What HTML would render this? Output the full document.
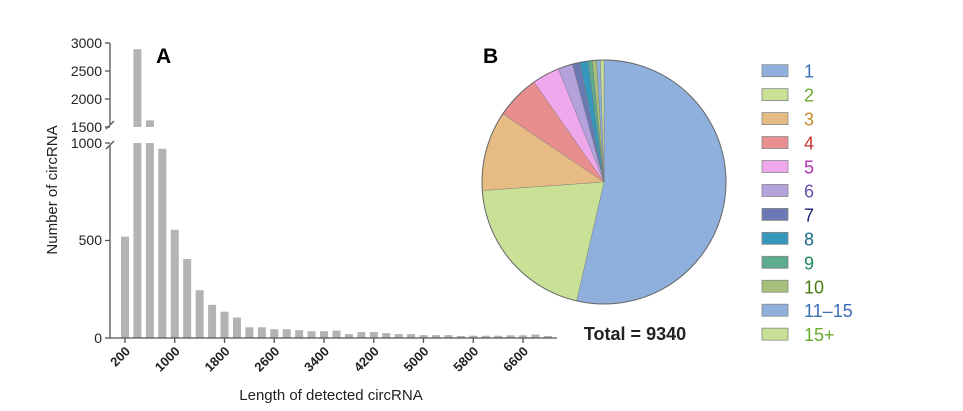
<!DOCTYPE html>
<html><head><meta charset="utf-8"><style>
html,body{margin:0;padding:0;background:#fff;}
svg{display:block;font-family:"Liberation Sans",Arial,sans-serif;}
</style></head><body>
<svg width="963" height="411" viewBox="0 0 963 411" xmlns="http://www.w3.org/2000/svg">
<g fill="#b3b3b3">
<rect x="121" y="236.6" width="8" height="101.4"/>
<rect x="133.44" y="143" width="8" height="195"/>
<rect x="133.44" y="49.2" width="8" height="77.8"/>
<rect x="145.88" y="143" width="8" height="195"/>
<rect x="145.88" y="120.3" width="8" height="6.7"/>
<rect x="158.32" y="148.8" width="8" height="189.2"/>
<rect x="170.76" y="229.8" width="8" height="108.2"/>
<rect x="183.2" y="259" width="8" height="79"/>
<rect x="195.64" y="290.2" width="8" height="47.8"/>
<rect x="208.08" y="304.8" width="8" height="33.2"/>
<rect x="220.52" y="311.7" width="8" height="26.3"/>
<rect x="232.96" y="317.5" width="8" height="20.5"/>
<rect x="245.4" y="327.3" width="8" height="10.7"/>
<rect x="257.84" y="327.3" width="8" height="10.7"/>
<rect x="270.28" y="329.2" width="8" height="8.8"/>
<rect x="282.72" y="329.2" width="8" height="8.8"/>
<rect x="295.16" y="330.2" width="8" height="7.8"/>
<rect x="307.6" y="331.2" width="8" height="6.8"/>
<rect x="320.04" y="331.2" width="8" height="6.8"/>
<rect x="332.48" y="330.6" width="8" height="7.4"/>
<rect x="344.92" y="334.1" width="8" height="3.9"/>
<rect x="357.36" y="332.1" width="8" height="5.9"/>
<rect x="369.8" y="332.1" width="8" height="5.9"/>
<rect x="382.24" y="333.1" width="8" height="4.9"/>
<rect x="394.68" y="334.1" width="8" height="3.9"/>
<rect x="407.12" y="334.1" width="8" height="3.9"/>
<rect x="419.56" y="335.1" width="8" height="2.9"/>
<rect x="432" y="335.1" width="8" height="2.9"/>
<rect x="444.44" y="335.1" width="8" height="2.9"/>
<rect x="456.88" y="336" width="8" height="2"/>
<rect x="469.32" y="335.7" width="8" height="2.3"/>
<rect x="481.76" y="335.7" width="8" height="2.3"/>
<rect x="494.2" y="335.7" width="8" height="2.3"/>
<rect x="506.64" y="335.3" width="8" height="2.7"/>
<rect x="519.08" y="335.3" width="8" height="2.7"/>
<rect x="531.52" y="334.5" width="8" height="3.5"/>
<rect x="543.96" y="336" width="8" height="2"/>
</g>
<g stroke="#555" stroke-width="1.3" fill="none">
 <line x1="110" y1="338" x2="557" y2="338"/>
 <line x1="110" y1="43" x2="110" y2="124"/>
 <line x1="110" y1="146" x2="110" y2="338"/>
 <line x1="105" y1="43" x2="110" y2="43"/>
 <line x1="105" y1="71" x2="110" y2="71"/>
 <line x1="105" y1="99" x2="110" y2="99"/>
 <line x1="105" y1="127" x2="110" y2="127"/>
 <line x1="105" y1="143" x2="110" y2="143"/>
 <line x1="105" y1="240.5" x2="110" y2="240.5"/>
 <line x1="105" y1="338" x2="110" y2="338"/>
 <line x1="106" y1="129" x2="114" y2="121"/>
 <line x1="106" y1="149" x2="114" y2="141"/>
 <line x1="125" y1="338" x2="125" y2="343"/>
 <line x1="174.75" y1="338" x2="174.75" y2="343"/>
 <line x1="224.5" y1="338" x2="224.5" y2="343"/>
 <line x1="274.25" y1="338" x2="274.25" y2="343"/>
 <line x1="324" y1="338" x2="324" y2="343"/>
 <line x1="373.75" y1="338" x2="373.75" y2="343"/>
 <line x1="423.5" y1="338" x2="423.5" y2="343"/>
 <line x1="473.25" y1="338" x2="473.25" y2="343"/>
 <line x1="523" y1="338" x2="523" y2="343"/>
</g>
<g font-size="14" fill="#222" text-anchor="end">
 <text x="102" y="48">3000</text>
 <text x="102" y="76">2500</text>
 <text x="102" y="104">2000</text>
 <text x="102" y="132">1500</text>
 <text x="102" y="148">1000</text>
 <text x="102" y="245">500</text>
 <text x="102" y="343">0</text>
</g>
<g font-size="13" font-weight="bold" fill="#222" text-anchor="end">
 <text x="131" y="352" transform="rotate(-45 131 352)">200</text>
 <text x="180.75" y="352" transform="rotate(-45 180.75 352)">1000</text>
 <text x="230.5" y="352" transform="rotate(-45 230.5 352)">1800</text>
 <text x="280.25" y="352" transform="rotate(-45 280.25 352)">2600</text>
 <text x="330" y="352" transform="rotate(-45 330 352)">3400</text>
 <text x="379.75" y="352" transform="rotate(-45 379.75 352)">4200</text>
 <text x="429.5" y="352" transform="rotate(-45 429.5 352)">5000</text>
 <text x="479.25" y="352" transform="rotate(-45 479.25 352)">5800</text>
 <text x="529" y="352" transform="rotate(-45 529 352)">6600</text>
</g>
<text x="57" y="190" font-size="15" fill="#222" text-anchor="middle" transform="rotate(-90 57 190)">Number of  circRNA</text>
<text x="331" y="400" font-size="15" fill="#222" text-anchor="middle">Length of detected circRNA</text>
<text x="156" y="63" font-size="21" font-weight="bold" fill="#000">A</text>
<text x="483" y="63" font-size="21" font-weight="bold" fill="#000">B</text>
<g stroke="#777" stroke-width="0.4">
<path d="M604 182 L604 60 A122 122 0 1 1 576.55 300.88 Z" fill="#8fb0dc"/>
<path d="M604 182 L576.55 300.88 A122 122 0 0 1 482.30 190.51 Z" fill="#c9e196"/>
<path d="M604 182 L482.30 190.51 A122 122 0 0 1 502.86 113.78 Z" fill="#e6bb84"/>
<path d="M604 182 L502.86 113.78 A122 122 0 0 1 534.02 82.06 Z" fill="#e88e8e"/>
<path d="M604 182 L534.02 82.06 A122 122 0 0 1 558.30 68.88 Z" fill="#f0a8ec"/>
<path d="M604 182 L558.30 68.88 A122 122 0 0 1 572.43 64.16 Z" fill="#b3a2db"/>
<path d="M604 182 L572.43 64.16 A122 122 0 0 1 579.88 62.40 Z" fill="#6a78b4"/>
<path d="M604 182 L579.88 62.40 A122 122 0 0 1 588.08 61.05 Z" fill="#3598bb"/>
<path d="M604 182 L588.08 61.05 A122 122 0 0 1 592.31 60.56 Z" fill="#5cac8d"/>
<path d="M604 182 L592.31 60.56 A122 122 0 0 1 596.55 60.23 Z" fill="#a7c07a"/>
<path d="M604 182 L596.55 60.23 A122 122 0 0 1 600.38 60.05 Z" fill="#8fb0dc"/>
<path d="M604 182 L600.38 60.05 A122 122 0 0 1 604 60 Z" fill="#c9e196"/>
</g>
<circle cx="604" cy="182" r="122" fill="none" stroke="#666" stroke-width="1"/>
<text x="635" y="340" font-size="18" font-weight="bold" fill="#222" text-anchor="middle">Total = 9340</text>
<g stroke="#888" stroke-width="0.8">
<rect x="762" y="64.7" width="26" height="12" fill="#8fb0dc"/>
<rect x="762" y="88.65" width="26" height="12" fill="#c9e196"/>
<rect x="762" y="112.6" width="26" height="12" fill="#e6bb84"/>
<rect x="762" y="136.55" width="26" height="12" fill="#e88e8e"/>
<rect x="762" y="160.5" width="26" height="12" fill="#f0a8ec"/>
<rect x="762" y="184.45" width="26" height="12" fill="#b3a2db"/>
<rect x="762" y="208.4" width="26" height="12" fill="#6a78b4"/>
<rect x="762" y="232.35" width="26" height="12" fill="#3598bb"/>
<rect x="762" y="256.3" width="26" height="12" fill="#5cac8d"/>
<rect x="762" y="280.25" width="26" height="12" fill="#a7c07a"/>
<rect x="762" y="304.2" width="26" height="12" fill="#8fb0dc"/>
<rect x="762" y="328.15" width="26" height="12" fill="#c9e196"/>
</g>
<g font-size="18">
<text x="804" y="77.7" fill="#3a6fb5">1</text>
<text x="804" y="101.65" fill="#6aaa2e">2</text>
<text x="804" y="125.6" fill="#c8892a">3</text>
<text x="804" y="149.55" fill="#c83030">4</text>
<text x="804" y="173.5" fill="#b030b0">5</text>
<text x="804" y="197.45" fill="#6a4fb0">6</text>
<text x="804" y="221.4" fill="#1a2470">7</text>
<text x="804" y="245.35" fill="#1a6a8a">8</text>
<text x="804" y="269.3" fill="#1a8a5a">9</text>
<text x="804" y="293.25" fill="#4a7a10">10</text>
<text x="804" y="317.2" fill="#3a6fb5">11–15</text>
<text x="804" y="341.15" fill="#6aaa2e">15+</text>
</g>
</svg>
</body></html>
